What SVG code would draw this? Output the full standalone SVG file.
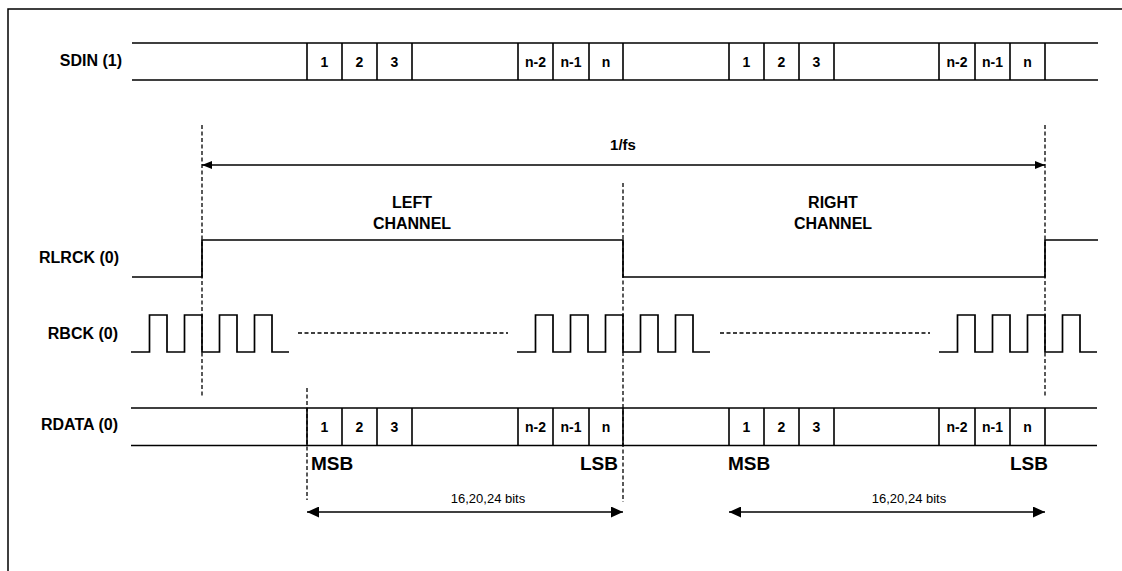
<svg xmlns="http://www.w3.org/2000/svg" width="1122" height="571" viewBox="0 0 1122 571">
<style>
.bg{fill:#fff}
.frame{fill:none;stroke:#000;stroke-width:1.5}
.bus{fill:none;stroke:#000;stroke-width:1.3}
.sep{fill:none;stroke:#000;stroke-width:1.6}
.wave{fill:none;stroke:#000;stroke-width:1.7}
.dash{fill:none;stroke:#000;stroke-width:1.3;stroke-dasharray:4,2.5}
.dim{fill:none;stroke:#000;stroke-width:1.4}
.lbl{font-family:"Liberation Sans",Arial,sans-serif;font-weight:bold;font-size:16px;fill:#000}
.num{font-family:"Liberation Sans",Arial,sans-serif;font-weight:bold;font-size:14px;fill:#000;text-anchor:middle}
.big{font-family:"Liberation Sans",Arial,sans-serif;font-weight:bold;font-size:19px;fill:#000}
.reg{font-family:"Liberation Sans",Arial,sans-serif;font-size:13px;fill:#000;text-anchor:middle}
</style>
<defs>
<marker id="ah" viewBox="0 0 10 8" refX="10" refY="4" markerWidth="10" markerHeight="8" markerUnits="userSpaceOnUse" orient="auto-start-reverse"><path d="M0,0L10,4L0,8Z" fill="#000"/></marker>
<marker id="ah2" viewBox="0 0 12 11" refX="12" refY="5.5" markerWidth="12" markerHeight="11" markerUnits="userSpaceOnUse" orient="auto-start-reverse"><path d="M0,0L12,5.5L0,11Z" fill="#000"/></marker>
</defs>
<rect class="bg" x="0" y="0" width="1122" height="571"/>
<path class="frame" d="M8,571V9H1122"/>

<g id="sdin">
<text class="lbl" x="122" y="66" text-anchor="end">SDIN (1)</text>
<path class="bus" d="M132,43H1098M132,80H1098"/>
<path class="sep" d="M307,43V80M342,43V80M377,43V80M412,43V80M518,43V80M553,43V80M589,43V80M623,43V80M729,43V80M764,43V80M799,43V80M834,43V80M939,43V80M975,43V80M1010,43V80M1045,43V80"/>
<text class="num" x="324.5" y="66.5">1</text><text class="num" x="359.5" y="66.5">2</text><text class="num" x="394.5" y="66.5">3</text>
<text class="num" x="535.5" y="66.5">n-2</text><text class="num" x="571" y="66.5">n-1</text><text class="num" x="606" y="66.5">n</text>
<text class="num" x="746.5" y="66.5">1</text><text class="num" x="781.5" y="66.5">2</text><text class="num" x="816.5" y="66.5">3</text>
<text class="num" x="957" y="66.5">n-2</text><text class="num" x="992.5" y="66.5">n-1</text><text class="num" x="1027.5" y="66.5">n</text>
</g>

<g id="rlrck">
<text class="lbl" x="119" y="263" text-anchor="end">RLRCK (0)</text>
<path class="wave" d="M132,277H202V240H623V277H1045V240H1098"/>
<text class="lbl" x="412" y="208" text-anchor="middle">LEFT</text>
<text class="lbl" x="412" y="229" text-anchor="middle">CHANNEL</text>
<text class="lbl" x="833" y="208" text-anchor="middle">RIGHT</text>
<text class="lbl" x="833" y="229" text-anchor="middle">CHANNEL</text>
</g>

<g id="rbck">
<text class="lbl" x="118" y="339" text-anchor="end">RBCK (0)</text>
<path class="wave" d="M131,352H149.5V315H167V352H184.5V315H202V352H219.5V315H237V352H254.5V315H272V352H289"/>
<path class="wave" d="M517,352H535.5V315H553V352H570.5V315H588V352H605.5V315H623V352H640.5V315H658V352H675.5V315H693V352H710"/>
<path class="wave" d="M939,352H957.5V315H975V352H992.5V315H1010V352H1027.5V315H1045V352H1062.5V315H1080V352H1097"/>
<path class="dash" d="M298,333H508M720,333H930"/>
</g>

<g id="rdata">
<text class="lbl" x="118" y="430" text-anchor="end">RDATA (0)</text>
<path class="bus" d="M131,408H1097M131,445.5H1097"/>
<path class="sep" d="M307,408V445.5M342,408V445.5M377,408V445.5M412,408V445.5M518,408V445.5M553,408V445.5M589,408V445.5M623,408V445.5M729,408V445.5M764,408V445.5M799,408V445.5M834,408V445.5M939,408V445.5M975,408V445.5M1010,408V445.5M1045,408V445.5"/>
<text class="num" x="324.5" y="432">1</text><text class="num" x="359.5" y="432">2</text><text class="num" x="394.5" y="432">3</text>
<text class="num" x="535.5" y="432">n-2</text><text class="num" x="571" y="432">n-1</text><text class="num" x="606" y="432">n</text>
<text class="num" x="746.5" y="432">1</text><text class="num" x="781.5" y="432">2</text><text class="num" x="816.5" y="432">3</text>
<text class="num" x="957" y="432">n-2</text><text class="num" x="992.5" y="432">n-1</text><text class="num" x="1027.5" y="432">n</text>
<text class="big" x="311" y="470">MSB</text>
<text class="big" x="618" y="470" text-anchor="end">LSB</text>
<text class="big" x="728" y="470">MSB</text>
<text class="big" x="1048" y="470" text-anchor="end">LSB</text>
</g>

<g id="connectors">
<path class="dash" d="M202,125V396M1045,125V396M623,183V502M307,388V500"/>
<path class="dim" d="M202,165H1045" marker-start="url(#ah)" marker-end="url(#ah)"/>
<text class="lbl" x="623" y="150" text-anchor="middle" style="font-size:15px">1/fs</text>
<path class="dim" d="M307,512H623" marker-start="url(#ah2)" marker-end="url(#ah2)"/>
<path class="dim" d="M729,512H1045" marker-start="url(#ah2)" marker-end="url(#ah2)"/>
<text class="reg" x="488" y="503">16,20,24 bits</text>
<text class="reg" x="909" y="503">16,20,24 bits</text>
</g>
</svg>
